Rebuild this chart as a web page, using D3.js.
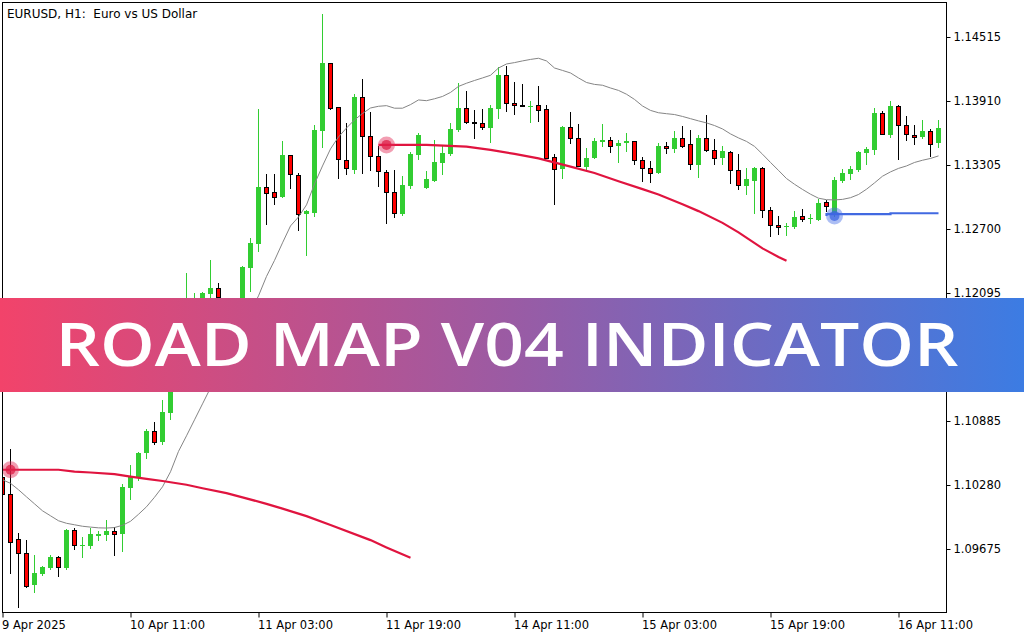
<!DOCTYPE html>
<html><head><meta charset="utf-8">
<script src="https://cdn.jsdelivr.net/npm/d3@7"></script>
<style>html,body{margin:0;padding:0;background:#fff;overflow:hidden}</style>
</head><body><svg id="chart" width="1024" height="640"></svg>
<script>
// ---------- DATA (EURUSD H1) ----------
const symbolTitle = "EURUSD, H1:  Euro vs US Dollar";
const bannerText = "ROAD MAP V04 INDICATOR";

const open = [
1.10357,1.10197,1.09771,1.09639,1.09337,1.09441,1.09497,1.09601,1.09497,1.09857,
1.09705,1.09705,1.09800,1.09809,1.09847,1.09819,1.10253,1.10357,1.10584,1.10792,
1.10688,1.10962,1.11255,1.11501,1.11860,1.11983,1.12087,1.12143,1.12030,1.11888,
1.11936,1.12332,1.12559,1.13098,1.13051,1.13003,1.13400,1.13211,1.12843,1.12852,
1.13627,1.14270,1.13854,1.13353,1.13259,1.13948,1.13580,1.13391,1.13240,1.13051,
1.12843,1.13107,1.13400,1.13088,1.13155,1.13325,1.13410,1.13637,1.13844,1.13712,
1.13703,1.13655,1.13835,1.14156,1.13892,1.13873,1.13863,1.13873,1.13835,1.13381,
1.13268,1.13665,1.13561,1.13287,1.13372,1.13523,1.13542,1.13485,1.13514,1.13533,
1.13353,1.13277,1.13230,1.13485,1.13457,1.13561,1.13504,1.13306,1.13561,1.13448,
1.13372,1.13429,1.13259,1.13107,1.13155,1.13277,1.12880,1.12739,1.12720,1.12720,
1.12824,1.12805,1.12786,1.12956,1.12833,1.13155,1.13221,1.13259,1.13419,1.13448,
1.13797,1.13589,1.13863,1.13684,1.13589,1.13570,1.13627,1.13514];

const high = [
1.10424,1.10622,1.09828,1.09762,1.09620,1.09516,1.09620,1.09611,1.09866,1.09875,
1.09790,1.09875,1.09847,1.09951,1.09885,1.10291,1.10471,1.10594,1.10811,1.10877,
1.11085,1.11293,1.11539,1.12285,1.12096,1.12106,1.12408,1.12191,1.12039,1.11983,
1.12351,1.12616,1.13835,1.13221,1.13221,1.13533,1.13400,1.13230,1.12880,1.13684,
1.14733,1.14270,1.13854,1.13703,1.13977,1.14118,1.13807,1.13485,1.13259,1.13259,
1.13202,1.13429,1.13608,1.13249,1.13542,1.13485,1.13703,1.14081,1.14005,1.13825,
1.13835,1.13873,1.14232,1.14241,1.14090,1.14071,1.13911,1.14052,1.13873,1.13410,
1.13674,1.13807,1.13693,1.13466,1.13561,1.13693,1.13570,1.13542,1.13608,1.13533,
1.13381,1.13344,1.13514,1.13523,1.13627,1.13674,1.13637,1.13589,1.13778,1.13551,
1.13485,1.13438,1.13410,1.13277,1.13287,1.13287,1.12909,1.12824,1.12758,1.12871,
1.12890,1.12843,1.12984,1.12975,1.13192,1.13268,1.13296,1.13438,1.13476,1.13844,
1.13816,1.13911,1.13873,1.13769,1.13684,1.13731,1.13646,1.13731];

const low = [
1.10178,1.09450,1.09129,1.09318,1.09271,1.09431,1.09488,1.09422,1.09488,1.09677,
1.09601,1.09686,1.09762,1.09762,1.09620,1.09658,1.10149,1.10329,1.10537,1.10669,
1.10669,1.10905,1.11198,1.11444,1.11747,1.11936,1.12039,1.12002,1.11841,1.11794,
1.11888,1.12115,1.12493,1.12748,1.12937,1.13003,1.13088,1.12692,1.12455,1.12824,
1.13476,1.13835,1.13183,1.13221,1.13230,1.13230,1.13259,1.13107,1.12758,1.12814,
1.12833,1.13088,1.13362,1.13088,1.13155,1.13221,1.13400,1.13627,1.13703,1.13561,
1.13646,1.13523,1.13750,1.13816,1.13788,1.13863,1.13712,1.13722,1.13372,1.12937,
1.13183,1.13514,1.13296,1.13259,1.13372,1.13485,1.13429,1.13334,1.13438,1.13315,
1.13155,1.13145,1.13230,1.13419,1.13429,1.13476,1.13268,1.13192,1.13438,1.13315,
1.13315,1.13136,1.13079,1.13032,1.12852,1.12814,1.12635,1.12654,1.12644,1.12710,
1.12777,1.12758,1.12786,1.12871,1.12824,1.13145,1.13173,1.13249,1.13315,1.13410,
1.13599,1.13570,1.13362,1.13542,1.13504,1.13561,1.13391,1.13476];

const close = [
1.10197,1.09743,1.09639,1.09327,1.09450,1.09507,1.09601,1.09507,1.09857,1.09715,
1.09715,1.09819,1.09819,1.09847,1.09819,1.10263,1.10357,1.10584,1.10792,1.10688,
1.10972,1.11255,1.11482,1.11860,1.11983,1.12096,1.12143,1.12058,1.11888,1.11936,
1.12342,1.12569,1.13098,1.13041,1.13003,1.13400,1.13221,1.12843,1.12871,1.13637,
1.14270,1.13844,1.13362,1.13277,1.13948,1.13580,1.13391,1.13249,1.13051,1.12852,
1.13117,1.13410,1.13589,1.13173,1.13334,1.13419,1.13646,1.13844,1.13712,1.13703,
1.13665,1.13844,1.14156,1.13892,1.13873,1.13863,1.13863,1.13825,1.13372,1.13268,
1.13665,1.13561,1.13296,1.13372,1.13533,1.13542,1.13485,1.13514,1.13533,1.13353,
1.13277,1.13230,1.13485,1.13466,1.13561,1.13485,1.13315,1.13561,1.13448,1.13372,
1.13438,1.13259,1.13117,1.13173,1.13277,1.12880,1.12739,1.12720,1.12729,1.12814,
1.12795,1.12805,1.12947,1.12918,1.13164,1.13230,1.13268,1.13429,1.13457,1.13797,
1.13599,1.13863,1.13684,1.13599,1.13570,1.13627,1.13504,1.13655];

// thin gray moving-average line, one value per bar
const maLine = [
1.10329,1.10296,1.10235,1.10168,1.10102,1.10036,1.09989,1.09942,1.09918,1.09904,
1.09890,1.09882,1.09875,1.09873,1.09878,1.09899,1.09937,1.10003,1.10074,1.10164,
1.10263,1.10405,1.10598,1.10745,1.10896,1.11047,1.11198,1.11350,1.11491,1.11633,
1.11775,1.11917,1.12068,1.12252,1.12403,1.12569,1.12729,1.12814,1.12928,1.13126,
1.13296,1.13457,1.13570,1.13655,1.13731,1.13792,1.13844,1.13860,1.13866,1.13842,
1.13842,1.13876,1.13920,1.13913,1.13931,1.13953,1.13991,1.14048,1.14078,1.14104,
1.14128,1.14153,1.14222,1.14260,1.14273,1.14289,1.14303,1.14314,1.14289,1.14222,
1.14199,1.14175,1.14128,1.14085,1.14067,1.14059,1.14033,1.14010,1.13974,1.13925,
1.13863,1.13821,1.13799,1.13790,1.13782,1.13764,1.13743,1.13722,1.13703,1.13678,
1.13646,1.13599,1.13561,1.13528,1.13481,1.13407,1.13329,1.13254,1.13177,1.13123,
1.13074,1.13029,1.12991,1.12977,1.12975,1.12980,1.12996,1.13026,1.13076,1.13136,
1.13199,1.13240,1.13273,1.13296,1.13329,1.13350,1.13367,1.13391];

// Road Map red (sell) paths: bar index + price
const red1Bars = [0,7,9,11,14,16,18,20,23,25,28,30,33,35,38,41,46,48,51];
const red1Vals = [1.10424,1.10424,1.10407,1.10398,1.10382,1.10360,1.10338,1.10318,1.10282,1.10249,
                  1.10203,1.10163,1.10102,1.10057,1.09986,1.09902,1.09759,1.09690,1.09592];
const red2Bars = [47,53,58,61,64,67,71,74,77,80,82,85,87,90,92,95,97,98];
const red2Vals = [1.13495,1.13495,1.13479,1.13448,1.13410,1.13367,1.13290,1.13230,1.13152,1.13077,
                  1.13026,1.12934,1.12869,1.12758,1.12668,1.12517,1.12436,1.12399];
// Road Map blue (buy) path
const blueBars = [103,111,115,117];
const blueVals = [1.12824,1.12840,1.12849,1.12849];
// signal dots
const signalBars = [1,48,104];
const signalVals = [1.10424,1.13495,1.12824];
const signalKind = ["sell","sell","buy"];

const yTicks = [1.14515,1.13910,1.13305,1.12700,1.12095,1.11490,1.10885,1.10280,1.09675];
const xTickBars = [0,16,32,48,64,80,96,112];
const xTickLabels = ["9 Apr 2025","10 Apr 11:00","11 Apr 03:00","11 Apr 19:00","14 Apr 11:00","15 Apr 03:00","15 Apr 19:00","16 Apr 11:00"];

// ---------- DRAW ----------
const svg = d3.select("#chart");
const L = 2, T = 2, R = 946, B = 612;
const x = d3.scaleLinear().domain([0, 1]).range([2.5, 10.5]);
const y = d3.scaleLinear().domain([1.09675, 1.14515]).range([549, 37]);

svg.append("rect").attr("width",1024).attr("height",640).attr("fill","#fff");
const defs = svg.append("defs");
defs.append("clipPath").attr("id","clip").append("rect")
  .attr("x",L).attr("y",T).attr("width",R-L).attr("height",B-T);
const grad = defs.append("linearGradient").attr("id","bannerGrad")
  .attr("x1","0%").attr("x2","100%").attr("y1","0%").attr("y2","0%");
grad.append("stop").attr("offset","0%").attr("stop-color","#f2436a");
grad.append("stop").attr("offset","50%").attr("stop-color","#9a5ba4");
grad.append("stop").attr("offset","100%").attr("stop-color","#3c7ce3");

const GREEN = "#32cd32", RED = "#ff0000";
const bars = d3.range(open.length).map(i => ({i, o:open[i], h:high[i], l:low[i], c:close[i], bull: close[i] >= open[i]}));
const g = svg.append("g").attr("clip-path","url(#clip)");

// wicks
g.selectAll("line.wick").data(bars).join("line").attr("class","wick")
  .attr("x1", d => x(d.i)).attr("x2", d => x(d.i))
  .attr("y1", d => Math.round(y(d.h))).attr("y2", d => Math.round(y(d.l)) + 1)
  .attr("stroke", d => d.bull ? GREEN : "#000").attr("stroke-width", 1);

// bull bodies
g.selectAll("rect.bull").data(bars.filter(d => d.bull)).join("rect").attr("class","bull")
  .attr("x", d => x(d.i) - 2.5).attr("width", 5)
  .attr("y", d => Math.round(y(d.c)))
  .attr("height", d => Math.max(1, Math.round(y(d.o)) - Math.round(y(d.c))))
  .attr("fill", GREEN);

// bear bodies
g.selectAll("rect.bear").data(bars.filter(d => !d.bull)).join("rect").attr("class","bear")
  .attr("x", d => x(d.i) - 2).attr("width", 4)
  .attr("y", d => Math.round(y(d.o)) + 0.5)
  .attr("height", d => Math.max(1, Math.round(y(d.c)) - Math.round(y(d.o))))
  .attr("fill", RED).attr("stroke","#000").attr("stroke-width",1);

// moving average
g.append("path").datum(maLine)
  .attr("d", d3.line().x((d,i) => x(i)).y(d => y(d)))
  .attr("fill","none").attr("stroke","#858585").attr("stroke-width",1);

// road map lines
const pathLine = d3.line().x(d => x(d[0])).y(d => y(d[1]));
g.append("path").datum(d3.zip(red1Bars, red1Vals)).attr("d", pathLine)
  .attr("fill","none").attr("stroke","#e0143f").attr("stroke-width",2.2);
g.append("path").datum(d3.zip(red2Bars, red2Vals)).attr("d", pathLine)
  .attr("fill","none").attr("stroke","#e0143f").attr("stroke-width",2.2);
g.append("path").datum(d3.zip(blueBars, blueVals))
  .attr("d", d3.line().x(d => x(d[0])).y(d => y(d[1])).curve(d3.curveStepBefore))
  .attr("fill","none").attr("stroke","#4169e1").attr("stroke-width",2.2);

// signal dots
const sig = g.selectAll("g.sig").data(d3.range(signalBars.length)).join("g")
  .attr("transform", i => `translate(${x(signalBars[i])},${y(signalVals[i])})`);
sig.append("circle").attr("r",8.5)
  .attr("fill", i => signalKind[i] === "sell" ? "rgba(226,40,85,0.45)" : "rgba(70,110,230,0.45)");
sig.append("circle").attr("r",5)
  .attr("fill", i => signalKind[i] === "sell" ? "rgba(222,30,70,0.75)" : "rgba(60,100,225,0.75)");

// frame
svg.append("rect").attr("x",L+0.5).attr("y",T+0.5).attr("width",R-L).attr("height",B-T)
  .attr("fill","none").attr("stroke","#000").attr("stroke-width",1);

// axes
const fontFam = "'DejaVu Sans', sans-serif";
const yAxis = d3.axisRight(y).tickValues(yTicks).tickSize(4).tickPadding(3).tickFormat(d3.format(".5f"));
const ya = svg.append("g").attr("transform",`translate(${R+0.5},0)`).call(yAxis);
ya.select(".domain").remove();
ya.selectAll("text").attr("font-family",fontFam).attr("font-size",11.5).attr("fill","#000");
ya.selectAll("line").attr("stroke","#000");

const xAxis = d3.axisBottom(x).tickValues(xTickBars).tickSize(5).tickPadding(3)
  .tickFormat((d,i) => xTickLabels[i]);
const xa = svg.append("g").attr("transform",`translate(0,${B+0.5})`).call(xAxis);
xa.select(".domain").remove();
xa.selectAll("text").attr("font-family",fontFam).attr("font-size",11.5).attr("fill","#000")
  .attr("text-anchor","start").attr("x",-1);
xa.selectAll("line").attr("stroke","#000");

// title (keep the double space)
svg.append("text").attr("x",7).attr("y",18).style("white-space","pre").attr("xml:space","preserve")
  .text(symbolTitle)
  .attr("font-family",fontFam).attr("font-size",12).attr("fill","#000");

// banner
svg.append("rect").attr("x",0).attr("y",298).attr("width",1024).attr("height",94)
  .attr("fill","url(#bannerGrad)");
svg.append("text").attr("x",507).attr("y",366).attr("text-anchor","middle")
  .attr("font-family","'Open Sans', sans-serif").attr("font-weight",600).attr("font-size",60)
  .attr("fill","#fff").attr("textLength",903).attr("lengthAdjust","spacingAndGlyphs")
  .text(bannerText);
</script></body></html>
